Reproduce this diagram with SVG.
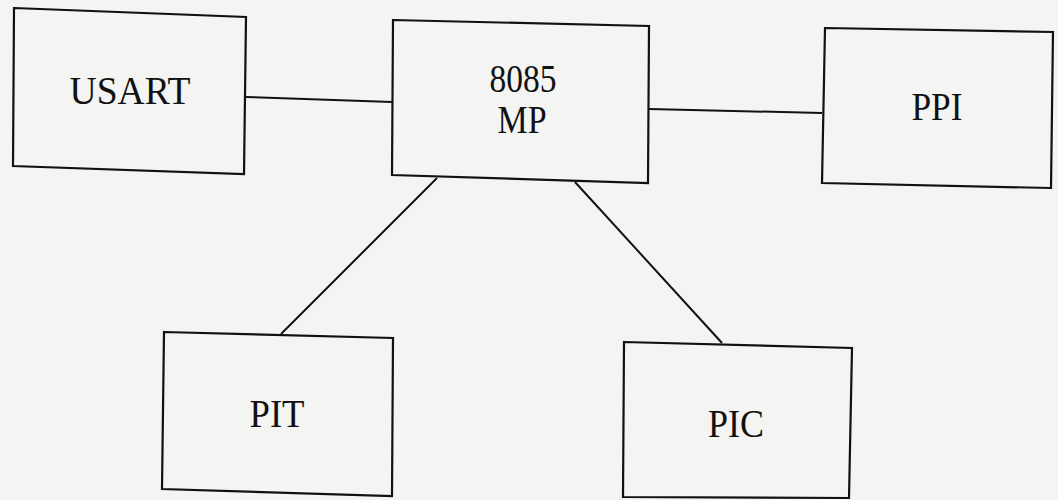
<svg xmlns="http://www.w3.org/2000/svg" width="1058" height="500" viewBox="0 0 1058 500">
  <style>
    .box { fill: none; stroke: #111; stroke-width: 2.2; stroke-linejoin: miter; }
    .conn { fill: none; stroke: #111; stroke-width: 2; }
    .lbl { font-family: "Liberation Serif", "Times New Roman", serif; font-size: 39px; fill: #111; text-anchor: middle; }
  </style>
  <rect width="1058" height="500" fill="#f4f4f2"/>
  <g id="connectors">
    <line class="conn" x1="245" y1="97" x2="392" y2="102"/>
    <line class="conn" x1="649" y1="109" x2="822" y2="113"/>
    <line class="conn" x1="437" y1="178" x2="281" y2="334"/>
    <line class="conn" x1="575" y1="182" x2="722" y2="343"/>
  </g>
  <g id="usart">
    <polygon class="box" points="14,8 246,17 244,174 13,166"/>
    <text class="lbl" x="130" y="104" textLength="121" lengthAdjust="spacingAndGlyphs">USART</text>
  </g>
  <g id="mp8085">
    <polygon class="box" points="393,20 649,26 648,183 392,175"/>
    <text class="lbl" x="523" y="92" textLength="67" lengthAdjust="spacingAndGlyphs">8085</text>
    <text class="lbl" x="522" y="133" textLength="49" lengthAdjust="spacingAndGlyphs">MP</text>
  </g>
  <g id="ppi">
    <polygon class="box" points="825,28 1053,32 1051,188 822,183"/>
    <text class="lbl" x="937" y="120" textLength="51" lengthAdjust="spacingAndGlyphs">PPI</text>
  </g>
  <g id="pit">
    <polygon class="box" points="164,332 393,338 392,496 162,489"/>
    <text class="lbl" x="277" y="427" textLength="55" lengthAdjust="spacingAndGlyphs">PIT</text>
  </g>
  <g id="pic">
    <polygon class="box" points="624,342 852,348 849,498 623,497"/>
    <text class="lbl" x="736" y="437" textLength="56" lengthAdjust="spacingAndGlyphs">PIC</text>
  </g>
</svg>
